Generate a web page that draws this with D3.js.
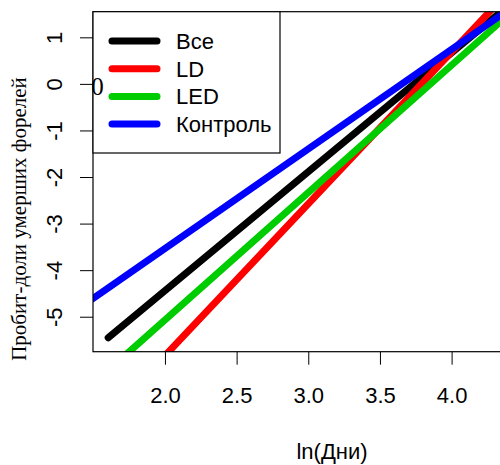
<!DOCTYPE html>
<meta charset="utf-8">
<style>
  body { margin: 0; background: #fff; }
</style>
<svg width="500" height="465" font-family="Liberation Sans, Arial, sans-serif" font-size="22"></svg>

<script src="https://d3js.org/d3.v7.min.js"></script>

<script>

// fitted probit lines: end points (ln(days), probit)
var series = ["Все", "LD", "LED", "Контроль"];
var lnStart = [1.604, 1.95, 1.70, 1.40];
var lnEnd = [4.6, 4.4, 4.5, 4.5];
var probitStart = [-5.45, -6.0, -5.89, -4.82];
var probitEnd = [2.20, 1.99, 1.77, 1.81];

var xTicks = [2.0, 2.5, 3.0, 3.5, 4.0];
var yTicks = [-5, -4, -3, -2, -1, 0, 1];

var svg = d3.select("svg");

var plotLeft = 93, plotRight = 571, plotTop = 11.7, plotBottom = 351.7;

var x = d3.scaleLinear().domain([1.498, 4.833]).range([plotLeft, plotRight]);
var y = d3.scaleLinear().domain([-5.751, 1.550]).range([plotBottom, plotTop]);

var color = d3.scaleOrdinal()
    .domain(series)
    .range(["#000000", "#ff0000", "#00cd00", "#0000ff"]);

svg.append("clipPath")
    .attr("id", "plot-clip")
  .append("rect")
    .attr("x", plotLeft)
    .attr("y", plotTop)
    .attr("width", plotRight - plotLeft)
    .attr("height", plotBottom - plotTop);

var lines = series.map(function(name, i) {
  return { name: name, pts: [[lnStart[i], probitStart[i]], [lnEnd[i], probitEnd[i]]] };
});

var line = d3.line()
    .x(function(d) { return x(d[0]); })
    .y(function(d) { return y(d[1]); });

svg.append("g")
    .attr("clip-path", "url(#plot-clip)")
  .selectAll("path")
  .data(lines)
  .enter().append("path")
    .attr("d", function(d) { return line(d.pts); })
    .attr("fill", "none")
    .attr("stroke", function(d) { return color(d.name); })
    .attr("stroke-width", 7)
    .attr("stroke-linecap", "round");

// axes
var xAxis = svg.append("g")
    .attr("transform", "translate(0," + plotBottom + ")")
    .call(d3.axisBottom(x).tickValues(xTicks).tickSize(13).tickFormat(d3.format(".1f")));

xAxis.select(".domain").remove();
xAxis.selectAll("line").attr("stroke", "#000");
xAxis.selectAll("text")
    .attr("y", 51.7)
    .attr("dy", null)
    .attr("fill", "#000")
    .style("font-size", "22px")
    .style("font-family", "Liberation Sans, Arial, sans-serif");

// plain hyphen for negatives, like R
var yAxis = svg.append("g")
    .attr("transform", "translate(" + plotLeft + ",0)")
    .call(d3.axisLeft(y).tickValues(yTicks).tickSize(13).tickFormat(function(d) { return String(d); }));

yAxis.select(".domain").remove();
yAxis.selectAll("line").attr("stroke", "#000");
yAxis.selectAll("text")
    .attr("x", null)
    .attr("dy", null)
    .attr("text-anchor", "middle")
    .attr("transform", "translate(-31,0) rotate(-90)")
    .attr("fill", "#000")
    .style("font-size", "22px")
    .style("font-family", "Liberation Sans, Arial, sans-serif");

// box
svg.append("rect")
    .attr("x", plotLeft)
    .attr("y", plotTop)
    .attr("width", plotRight - plotLeft)
    .attr("height", plotBottom - plotTop)
    .attr("fill", "none")
    .attr("stroke", "#000")
    .attr("stroke-width", 1.2);

// axis titles
svg.append("text")
    .attr("x", (plotLeft + plotRight) / 2)
    .attr("y", 459)
    .attr("text-anchor", "middle")
    .text("ln(Дни)");

svg.append("text")
    .attr("transform", "translate(26,219) rotate(-90)")
    .attr("text-anchor", "middle")
    .attr("font-family", "Liberation Serif, Times New Roman, serif")
    .attr("font-size", 21)
    .text("Пробит-доли умерших форелей");

// legend
var legend = svg.append("g");

legend.append("rect")
    .attr("x", plotLeft)
    .attr("y", plotTop)
    .attr("width", 280 - plotLeft)
    .attr("height", 153 - plotTop)
    .attr("fill", "#fff")
    .attr("stroke", "#000")
    .attr("stroke-width", 1.2);

var item = legend.selectAll(".item")
  .data(series)
  .enter().append("g")
    .attr("class", "item")
    .attr("transform", function(d, i) { return "translate(0," + (41 + i * 27.7) + ")"; });

item.append("line")
    .attr("x1", 112)
    .attr("x2", 157)
    .attr("stroke", function(d) { return color(d); })
    .attr("stroke-width", 7)
    .attr("stroke-linecap", "round");

item.append("text")
    .attr("x", 176)
    .attr("y", 8)
    .text(function(d) { return d; });

// stray zero label sitting on the left edge
svg.append("text")
    .attr("x", 97.5)
    .attr("y", 95)
    .attr("text-anchor", "middle")
    .attr("font-family", "Liberation Serif, Times New Roman, serif")
    .attr("font-size", 25)
    .text("0");

</script>
